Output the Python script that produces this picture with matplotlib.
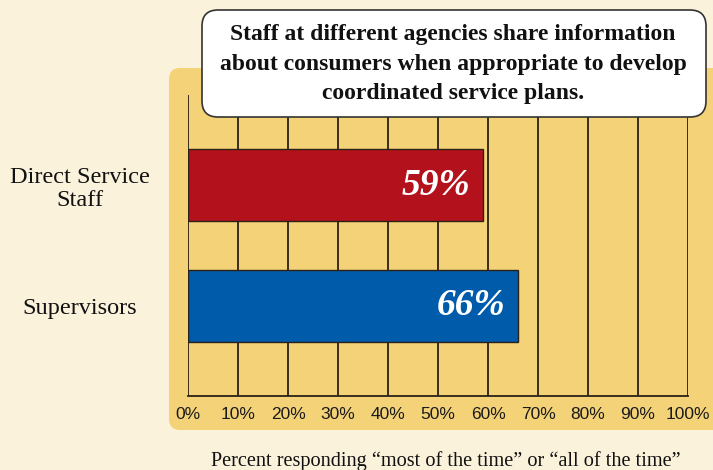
import matplotlib.pyplot as plt
from matplotlib.patches import FancyBboxPatch

# survey results
groups = ["Direct Service\nStaff", "Supervisors"]
percents = [59, 66]
bar_colors = ["#B3121C", "#005BAA"]
x_ticks = [0, 10, 20, 30, 40, 50, 60, 70, 80, 90, 100]
x_tick_labels = [f"{t}%" for t in x_ticks]
title = ("Staff at different agencies share information\n"
         "about consumers when appropriate to develop\n"
         "coordinated service plans.")
x_title = "Percent responding \u201cmost of the time\u201d or \u201call of the time\u201d"

W, H = 713, 470
fig = plt.figure(figsize=(W / 100, H / 100), dpi=100, facecolor="#FBF2DC")
inch = fig.dpi_scale_trans


def px_box(x0, y0, x1, y1, **kw):
    # rounded box given in pixel coords (y measured from the top)
    return FancyBboxPatch((x0 / 100, (H - y1) / 100), (x1 - x0) / 100, (y1 - y0) / 100,
                          transform=inch, **kw)


# yellow panel behind the chart
fig.patches.append(px_box(169, 68, 740, 430, boxstyle="round,pad=0,rounding_size=0.11",
                          facecolor="#F3D278", edgecolor="none", zorder=-5))

ax = fig.add_axes([188 / W, (H - 396) / H, 500 / W, 301 / H])
ax.set_facecolor("none")

y_pos = list(range(len(groups)))
ax.barh(y_pos, percents, height=0.595, color=bar_colors, edgecolor="#2B2116",
        linewidth=1.0, zorder=3)
for y, v in zip(y_pos, percents):
    ax.text(v - 2.6, y, f"{v}%", ha="right", va="center", color="white",
            fontsize=27, fontweight="bold", fontstyle="italic",
            family="Liberation Serif", zorder=4)

ax.set_xlim(0, 100)
ax.set_ylim(1.744, -0.744)
ax.set_xticks(x_ticks)
ax.set_xticklabels(x_tick_labels, family="Liberation Sans", fontsize=12.5, color="#1A1A1A")
ax.set_yticks(y_pos)
ax.set_yticklabels(groups, family="Liberation Serif", fontsize=17.5, ha="center",
                   linespacing=1.15, color="#111111")
ax.tick_params(axis="x", length=0, pad=8)
ax.tick_params(axis="y", length=0, pad=77.8)

for t in x_ticks:
    ax.axvline(t, color="#2B2116", linewidth=1.3, zorder=1)
for side in ["top", "right"]:
    ax.spines[side].set_visible(False)
ax.spines["left"].set_visible(False)
ax.spines["bottom"].set_color("#2B2116")
ax.spines["bottom"].set_linewidth(1.3)

# heading box
fig.patches.append(px_box(202, 10, 706, 117, boxstyle="round,pad=0,rounding_size=0.16",
                          facecolor="white", edgecolor="#333333", linewidth=1.2, zorder=10))
fig.text(453 / 100, (H - 64) / 100, title, transform=inch, ha="center", va="center",
         fontsize=17, fontweight="bold", family="Liberation Serif", linespacing=1.52,
         color="#111111", zorder=11)

fig.text(446 / 100, (H - 461) / 100, x_title, transform=inch, ha="center", va="center",
         fontsize=14.6, family="Liberation Serif", color="#111111")

fig.savefig("out.png", dpi=100, facecolor=fig.get_facecolor())
